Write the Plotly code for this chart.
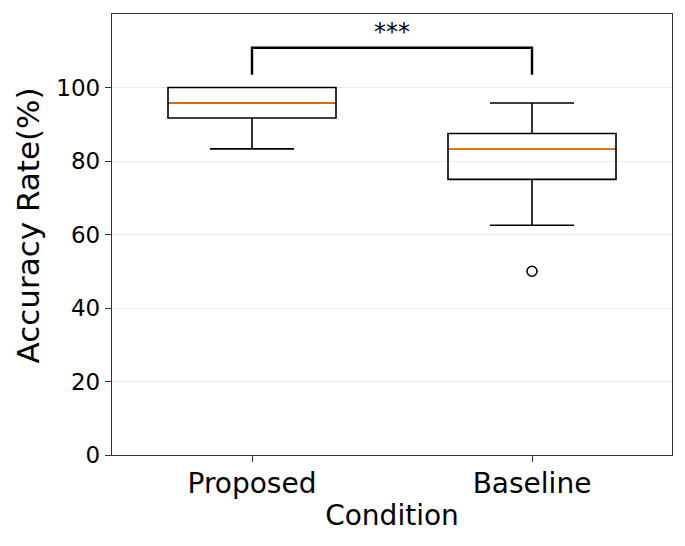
import plotly.graph_objects as go

categories = ["Proposed", "Baseline"]
positions = [1, 2]
q1 = [91.7, 75.0]
median = [95.8, 83.3]
q3 = [100.0, 87.5]
lower_whisker = [83.3, 62.5]
upper_whisker = [100.0, 95.8]
outlier_x = [2]
outlier_y = [50.0]
sig_text = "***"
sig_bar_y = 110.8
sig_leg_y = 103.5

box_width = 0.6
FONT = "DejaVu Sans"

fig = go.Figure()
for i in range(len(categories)):
    fig.add_trace(go.Box(
        x=[positions[i]], q1=[q1[i]], median=[median[i]], q3=[q3[i]],
        lowerfence=[lower_whisker[i]], upperfence=[upper_whisker[i]],
        width=box_width, whiskerwidth=0.5,
        line=dict(color="black", width=1.6),
        fillcolor="rgba(255,255,255,0)",
        boxpoints=False, showlegend=False, hoverinfo="skip",
    ))
    fig.add_trace(go.Scatter(
        x=[positions[i] - box_width / 2 * 0.985, positions[i] + box_width / 2 * 0.985],
        y=[median[i], median[i]], mode="lines",
        line=dict(color="#ff7f0e", width=1.6), showlegend=False, hoverinfo="skip",
    ))

fig.add_trace(go.Scatter(
    x=outlier_x, y=outlier_y, mode="markers",
    marker=dict(symbol="circle-open", size=10, color="black", line=dict(width=1.6)),
    showlegend=False, hoverinfo="skip",
))

fig.add_trace(go.Scatter(
    x=[positions[0], positions[0], positions[1], positions[1]],
    y=[sig_leg_y, sig_bar_y, sig_bar_y, sig_leg_y], mode="lines",
    line=dict(color="black", width=2.4), showlegend=False, hoverinfo="skip",
))
fig.add_annotation(x=(positions[0] + positions[1]) / 2, y=sig_bar_y, text=sig_text,
                   showarrow=False, yanchor="bottom", yshift=0,
                   font=dict(family=FONT, size=24, color="black"))

# y-axis title as annotation for exact placement
fig.add_annotation(xref="paper", yref="paper", x=0, y=0.5, xshift=-85, yshift=9,
                   text="Accuracy Rate(%)", textangle=-90, showarrow=False,
                   xanchor="center", yanchor="middle",
                   font=dict(family=FONT, size=31, color="black"))

axis_common = dict(showline=True, linecolor="#333333", linewidth=1.3, mirror=True,
                   ticks="outside", ticklen=6, tickwidth=1.3, tickcolor="#333333",
                   zeroline=False)

fig.update_layout(
    width=685, height=546,
    margin=dict(l=112, r=13, t=14, b=91),
    paper_bgcolor="white", plot_bgcolor="white",
    font=dict(family=FONT, color="black"),
    xaxis=dict(range=[0.5, 2.5], tickvals=positions, ticktext=categories,
               tickfont=dict(size=28), showgrid=False, ticklabelstandoff=-3,
               title=dict(text="Condition", font=dict(size=28), standoff=6),
               **axis_common),
    yaxis=dict(range=[0, 120], tickvals=[0, 20, 40, 60, 80, 100],
               tickfont=dict(size=23), showgrid=True, gridcolor="#ebebeb", gridwidth=1,
               **axis_common),
)

fig.write_html("out.html", config={"displayModeBar": False},
               post_script="document.body.style.margin='0';")
